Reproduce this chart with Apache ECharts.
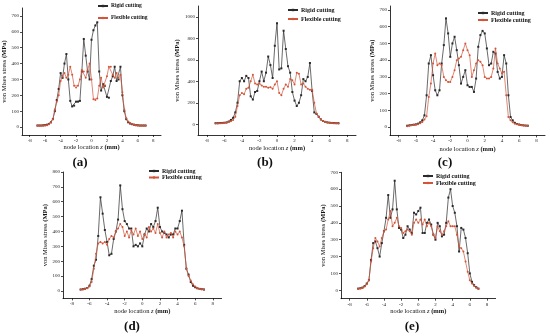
<!DOCTYPE html>
<html><head><meta charset="utf-8">
<script src="https://cdn.jsdelivr.net/npm/echarts@6/dist/echarts.min.js"></script>
<style>html,body{margin:0;padding:0;background:#fff}#c{width:550px;height:336px}</style>
</head><body><div id="c"></div>
<script>
const z = [-7,-6.75,-6.5,-6.25,-6,-5.75,-5.5,-5.25,-5,
  -4.75,-4.5,-4.25,-4,-3.75,-3.5,-3.25,-3,
  -2.75,-2.5,-2.25,-2,-1.75,-1.5,-1.25,-1,
  -0.75,-0.5,-0.25,0,0.25,0.5,0.75,1,
  1.25,1.5,1.75,2,2.25,2.5,2.75,3,
  3.25,3.5,3.75,4,4.25,4.5,4.75,5,
  5.25,5.5,5.75,6,6.25,6.5,6.75,7];

const rigidA = [10,10,10,11,12,15,20,30,50, 100,170,240,340,310,400,460,300, 165,130,135,160,160,165,350,555, 450,350,300,550,610,640,660,350, 230,270,260,190,185,290,320,380, 290,300,380,200,100,50,30,22, 18,15,12,11,10,10,10,10];
const flexA  = [8,8,8,9,10,12,18,28,50, 110,160,200,290,320,340,310,330, 380,330,260,250,260,300,360,350, 310,360,400,300,175,170,180,260, 310,250,260,320,380,380,330,310, 340,310,330,220,110,55,35,25, 20,15,12,10,9,8,8,8];

const rigidB = [10,10,11,12,14,17,25,40,60, 110,200,400,430,400,450,430,260, 230,300,310,400,490,400,480,630, 550,430,730,940,510,520,870,700, 540,480,300,220,170,200,270,420, 400,440,570,310,110,95,70,45, 30,22,17,14,12,11,10,10];
const flexB  = [8,8,9,10,12,15,20,28,40, 70,170,270,290,280,330,340,400, 460,380,370,380,360,350,350,340, 345,330,370,400,290,270,330,370, 350,420,410,370,480,470,370,380, 350,330,320,320,200,100,70,45, 30,22,17,13,11,10,9,8];

const rigidC = [8,10,12,14,16,20,28,40,70, 190,380,430,310,220,190,220,380, 490,650,560,420,500,540,460,370, 260,300,340,250,240,240,210,290, 480,550,575,560,470,370,380,450, 440,330,290,300,430,380,190,60, 40,25,18,15,12,10,9,8];
const flexC  = [5,8,10,12,14,17,22,30,45, 65,180,260,380,440,370,380,370, 300,280,270,270,300,340,400,410, 420,460,500,460,430,300,340,380, 400,390,370,300,290,290,300,350, 470,380,350,320,330,190,60,40, 28,20,16,13,11,9,8,7];

const rigidD = [10,12,15,20,35,80,170,210,370, 630,520,410,330,240,250,350,400, 480,710,550,470,450,420,420,300, 310,300,320,300,380,420,400,450, 430,470,560,430,400,390,380,360, 380,380,420,420,470,540,310,150, 110,60,35,25,18,14,12,10];
const flexD  = [8,10,13,18,30,60,150,250,320, 330,320,330,310,350,370,360,400, 420,450,430,370,400,360,410,380, 420,370,400,350,380,360,430,400, 420,390,450,390,360,400,360,380, 390,360,400,380,400,360,300,150, 100,70,45,30,20,14,11,9];

const rigidE = [10,12,16,25,40,60,180,280,290, 250,200,280,350,430,565,430,480, 650,480,370,360,310,330,380,360, 340,460,450,470,490,340,340,400, 420,390,330,300,400,380,320,330, 400,550,600,500,460,380,230,370, 360,310,220,100,50,30,18,10];
const flexE  = [8,10,14,22,35,60,170,250,310, 290,260,310,350,360,420,470,380, 400,430,380,370,340,350,360,350, 330,400,420,400,420,390,420,380, 400,380,330,310,380,350,330,350, 380,410,380,380,380,330,260,250, 230,170,110,60,40,25,15,8];

const xTicks = [-8,-6,-4,-2,0,2,4,6,8];
const yTicksA = [0,100,200,300,400,500,600,700];
const yTicksB = [0,200,400,600,800,1000];
const yTicksC = [0,100,200,300,400,500,600,700];
const yTicksD = [0,100,200,300,400,500,600,700,800];
const yTicksE = [0,100,200,300,400,500,600,700];
const panelLabels = ['(a)','(b)','(c)','(d)','(e)'];
const seriesNames = ['Rigid cutting','Flexible cutting'];

const FONT = '"Liberation Serif", "DejaVu Serif", serif';
const RIGID_COLOR = '#2a2a2a';
const FLEX_COLOR = '#d2553a';

const panels = [
  {grid:{left:22,top:8,width:139,height:127}, ymin:-50, ymax:750, yt:yTicksA, r:rigidA, f:flexA,
   xgap:8, ygap:11, lab:[80,163], leg:{left:97,top:3,gap:6,fs:5.5}},
  {grid:{left:198,top:6,width:158,height:129}, ymin:-100, ymax:1100, yt:yTicksB, r:rigidB, f:flexB,
   xgap:10, ygap:13, lab:[265,163], leg:{left:287,top:7,gap:3,fs:6}},
  {grid:{left:390,top:6,width:155,height:129.4}, ymin:-50, ymax:724, yt:yTicksC, r:rigidC, f:flexC,
   xgap:10, ygap:12, lab:[445,163], leg:{left:477,top:10,gap:1,fs:6}},
  {grid:{left:63,top:172,width:158.6,height:126.4}, ymin:-50, ymax:800, yt:yTicksD, r:rigidD, f:flexD,
   xgap:9, ygap:12, lab:[132,327], leg:{left:148,top:168,gap:0.5,fs:6}},
  {grid:{left:341,top:172.3,width:154.6,height:126.4}, ymin:-50, ymax:700, yt:yTicksE, r:rigidE, f:flexE,
   xgap:9, ygap:12, lab:[412,327], leg:{left:422,top:173,gap:1,fs:6}}
];

const axisLine = {show:true, onZero:false, lineStyle:{color:'#000', width:0.8}};
const grids=[], xAxes=[], yAxes=[], series=[], legends=[], graphics=[];
panels.forEach((p,i)=>{
  grids.push(Object.assign({outerBoundsMode:'none', containLabel:false}, p.grid));
  xAxes.push({type:'value', gridIndex:i, min:-9, max:9,
    axisLine:axisLine, splitLine:{show:false},
    axisTick:{show:true, customValues:xTicks, length:2, lineStyle:{color:'#000',width:0.7}},
    axisLabel:{customValues:xTicks, fontSize:5, color:'#222', fontFamily:FONT, margin:3},
    name:'{n|node location }{i|z}{b| (mm)}', nameLocation:'middle', nameGap:p.xgap,
    nameTextStyle:{fontFamily:FONT, fontSize:6.5, color:'#111',
      rich:{n:{fontFamily:FONT,fontSize:6.5,color:'#111'},
            i:{fontFamily:FONT,fontSize:6.5,fontStyle:'italic',color:'#111'},
            b:{fontFamily:FONT,fontSize:6.5,fontWeight:'bold',color:'#111'}}}
  });
  yAxes.push({type:'value', gridIndex:i, min:p.ymin, max:p.ymax,
    axisLine:axisLine, splitLine:{show:false},
    axisTick:{show:true, customValues:p.yt, length:2, lineStyle:{color:'#000',width:0.7}},
    axisLabel:{customValues:p.yt, fontSize:5, color:'#222', fontFamily:FONT, margin:3,
      formatter:(v)=>String(v)},
    name:'{n|von Mises stress }{b|(MPa)}', nameLocation:'middle', nameGap:p.ygap, nameRotate:90,
    nameTextStyle:{fontFamily:FONT, fontSize:6.5, color:'#111',
      rich:{n:{fontFamily:FONT,fontSize:6.5,color:'#111'},
            b:{fontFamily:FONT,fontSize:6.5,fontWeight:'bold',color:'#111'}}}
  });
  series.push({type:'line', name:seriesNames[0], xAxisIndex:i, yAxisIndex:i,
    data:z.map((v,k)=>[v,p.r[k]]), symbol:'rect', symbolSize:2, showSymbol:true,
    lineStyle:{color:RIGID_COLOR,width:0.7}, itemStyle:{color:RIGID_COLOR}, z:3});
  series.push({type:'line', name:seriesNames[1], xAxisIndex:i, yAxisIndex:i,
    data:z.map((v,k)=>[v,p.f[k]]), symbol:'circle', symbolSize:2, showSymbol:true,
    lineStyle:{color:FLEX_COLOR,width:0.7}, itemStyle:{color:FLEX_COLOR}, z:4});
  legends.push({data:seriesNames, orient:'vertical', left:p.leg.left, top:p.leg.top,
    itemWidth:10, itemHeight:3, itemGap:p.leg.gap, padding:0, selectedMode:false,
    itemStyle:{borderWidth:0}, symbolRotate:0,
    textStyle:{fontFamily:FONT, fontSize:p.leg.fs, fontWeight:'bold', color:'#111', lineHeight:6, padding:[0,0,0,-2]}});
  graphics.push({type:'text', x:p.lab[0], y:p.lab[1],
    style:{text:panelLabels[i], font:'bold 13px "Liberation Serif"', fill:'#111', align:'center', verticalAlign:'middle'}});
});

const chart = echarts.init(document.getElementById('c'), null, {renderer:'canvas'});
chart.setOption({animation:false, backgroundColor:'#fff',
  grid:grids, xAxis:xAxes, yAxis:yAxes, series:series, legend:legends, graphic:graphics});
</script></body></html>
